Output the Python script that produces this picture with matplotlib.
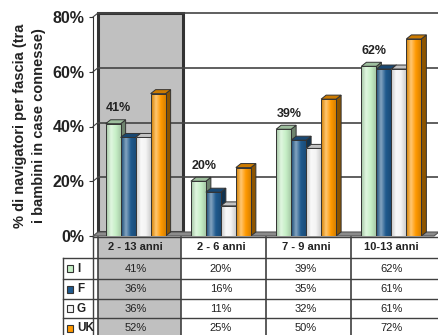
import numpy as np
import matplotlib
matplotlib.use("Agg")
import matplotlib.pyplot as plt
import matplotlib.transforms as mtransforms
from matplotlib.colors import LinearSegmentedColormap, to_rgb
from matplotlib.patches import Polygon, Rectangle

categories = ['2 - 13 anni', '2 - 6 anni', '7 - 9 anni', '10-13 anni']
series_names = ['I', 'F', 'G', 'UK']
val_I = [41, 20, 39, 62]
val_F = [36, 16, 35, 61]
val_G = [36, 11, 32, 61]
val_UK = [52, 25, 50, 72]
yticks = [0, 20, 40, 60, 80]

colors = ['#c6efc6', '#1f5a8e', '#f4f4f4', '#ff9900']
all_vals = [val_I, val_F, val_G, val_UK]

plt.rcParams['font.family'] = ['Liberation Sans', 'DejaVu Sans']

W, H = 439, 335
fig = plt.figure(figsize=(W / 100, H / 100), dpi=100)

# overlay in pixels for the data table
tab = fig.add_axes([0, 0, 1, 1], zorder=0)
tab.set_xlim(0, W)
tab.set_ylim(H, 0)
tab.axis('off')

# main plotting area (front plane)
x0, x1, ybot, ytop = 93, 434, 236, 13
ax = fig.add_axes([x0 / W, (H - ybot) / H, (x1 - x0) / W, (ybot - ytop) / H], zorder=1)
ax.patch.set_alpha(0)
px_per_pct = (ybot - 17) / 80
ax.set_ylim(0, (ybot - ytop) / px_per_pct)
ax.set_xlim(-0.5, 3.5)
px_per_cat = (x1 - x0) / 4
dx = 5 / px_per_cat
dy = 4 / px_per_pct

for s in ['top', 'right', 'bottom']:
    ax.spines[s].set_visible(False)
ax.spines['left'].set_bounds(0, 80)
ax.spines['left'].set_color('#333333')
ax.set_xticks([])
ax.set_yticks(yticks)
ax.set_yticklabels([f'{t}%' for t in yticks], fontsize=11.5, fontweight='bold', color='#222222')
ax.tick_params(axis='y', length=3, width=0.8, color='#333333', pad=3)
ax.set_ylabel('% di navigatori per fascia (tra\ni bambini in case connesse)',
              fontsize=10.5, fontweight='bold', color='#222222', linespacing=1.45)
ax.yaxis.set_label_coords(-47 / (x1 - x0), (ybot - 126) / (ybot - ytop))

# back wall: highlighted first category
ax.add_patch(Rectangle((-0.5 + dx, dy), 1, 80, facecolor='#c0c0c0',
                       edgecolor='#333333', lw=2.2, zorder=1, clip_on=False))
ax.plot([-0.5 + dx, -0.5 + dx], [dy, 80 + dy], color='#333333', lw=1, zorder=2, clip_on=False)
for t in yticks[1:]:
    ax.plot([-0.5 + dx, 3.5 + dx], [t + dy, t + dy], color='#444444', lw=1.2, zorder=2, clip_on=False)
    ax.plot([-0.5, -0.5 + dx], [t, t + dy], color='#444444', lw=0.8, zorder=2, clip_on=False)

# floor
ax.add_patch(Polygon([(-0.5, 0), (3.5, 0), (3.5 + dx, dy), (-0.5 + dx, dy)],
                     closed=True, facecolor='#8c8c8c', edgecolor='#555555', lw=0.8,
                     zorder=3, clip_on=False))


def shade(c, f):
    r, g, b = to_rgb(c)
    return (r * f, g * f, b * f)


def lighten(c, f):
    r, g, b = to_rgb(c)
    return (r + (1 - r) * f, g + (1 - g) * f, b + (1 - b) * f)


bw = 15 / px_per_cat
xs = np.arange(len(categories))
z = 4
for j, vals in enumerate(all_vals):
    c = colors[j]
    cmap = LinearSegmentedColormap.from_list('g', [shade(c, 0.82), lighten(c, 0.45), c, shade(c, 0.85)])
    bars = ax.bar(xs + (j - 1.5) * bw, vals, width=bw, color=c, edgecolor='#333333',
                  lw=0.7, zorder=z + 2)
    for b in bars:
        xl, h = b.get_x(), b.get_height()
        xr = xl + bw
        side = Polygon([(xr, 0), (xr + dx, dy), (xr + dx, h + dy), (xr, h)], closed=True,
                       facecolor=shade(c, 0.55), edgecolor='#333333', lw=0.7, zorder=z)
        top = Polygon([(xl, h), (xr, h), (xr + dx, h + dy), (xl + dx, h + dy)], closed=True,
                      facecolor=shade(c, 0.8), edgecolor='#333333', lw=0.7, zorder=z + 1)
        ax.add_patch(side)
        ax.add_patch(top)
        im = ax.imshow(np.linspace(0, 1, 32)[None, :], cmap=cmap, aspect='auto',
                       extent=(xl, xr, 0, h), zorder=z + 1.5, interpolation='bilinear')
        im.set_clip_path(b)
        b.set_facecolor('none')
    z += 3
ax.set_xlim(-0.5, 3.5)
ax.set_ylim(0, (ybot - ytop) / px_per_pct)

# value labels of the first series
for i, v in enumerate(val_I):
    ax.annotate(f'{v}%', xy=(xs[i] - 1.5 * bw, v), xytext=(4, 11), textcoords='offset points',
                ha='center', va='center', fontsize=9, fontweight='bold', color='#222222')

# data table
blend = mtransforms.blended_transform_factory(ax.transData, tab.transData)
col_edges = [-0.5 + dx, 0.53, 1.53, 2.53, 3.6]
row_edges = [237, 258, 279, 299, 318, 338]
line_c = '#404040'
tab.add_patch(Rectangle((col_edges[0], row_edges[0]), col_edges[1] - col_edges[0],
                        row_edges[-1] - row_edges[0], transform=blend,
                        facecolor='#c0c0c0', edgecolor='none'))
tab.plot([93, W], [row_edges[0], row_edges[0]], color=line_c, lw=1)
for r in row_edges[1:]:
    tab.plot([63, W], [r, r], color=line_c, lw=1)
tab.plot([63, 63], [row_edges[1], H], color=line_c, lw=1)
tab.plot([93, 93], [ybot, H], color=line_c, lw=1)
for e in col_edges[:-1]:
    tab.plot([e, e], [row_edges[0], H], color=line_c, lw=1.2, transform=blend)

for i, cat in enumerate(categories):
    tab.text(xs[i], (row_edges[0] + row_edges[1]) / 2, cat, transform=blend, ha='center',
             va='center', fontsize=8, fontweight='bold', color='#222222')
for j, vals in enumerate(all_vals):
    yc = (row_edges[j + 1] + row_edges[j + 2]) / 2
    tab.add_patch(Rectangle((67, yc - 3.5), 6, 7, facecolor=colors[j], edgecolor='#333333', lw=0.8))
    tab.text(77, yc, series_names[j], ha='left', va='center', fontsize=8.5,
             fontweight='bold', color='#222222')
    for i, v in enumerate(vals):
        tab.text(xs[i], yc, f'{v}%', transform=blend, ha='center', va='center',
                 fontsize=8, color='#222222')

fig.savefig('out.png', dpi=100)
